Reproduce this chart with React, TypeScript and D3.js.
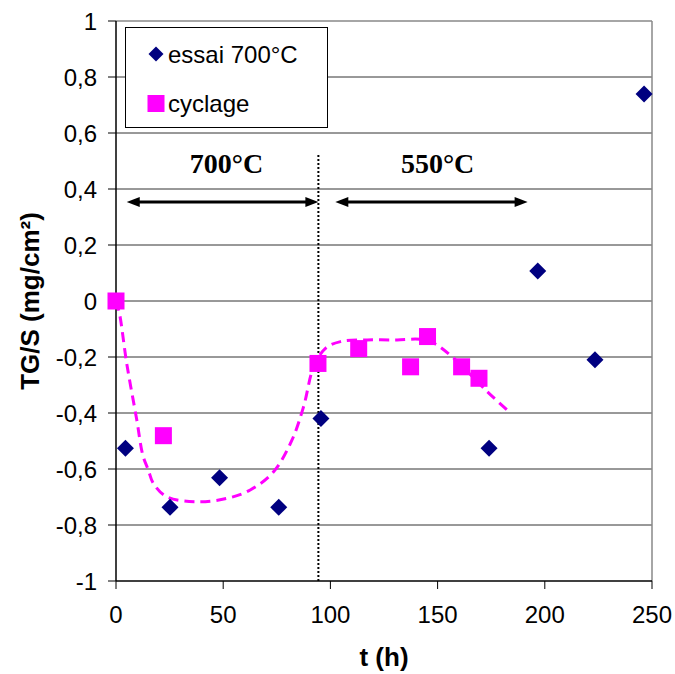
import React from 'react';
import * as d3 from 'd3';

const essaiT = [4.4, 25.2, 48.3, 75.9, 95.6, 174, 196.7, 223.4, 246.3];
const essaiV = [-0.526, -0.737, -0.631, -0.737, -0.42, -0.526, 0.107, -0.21, 0.739];
const cyclT = [0, 22.1, 94.2, 113.2, 137.4, 145.3, 161.2, 169.3];
const cyclV = [0, -0.481, -0.223, -0.17, -0.235, -0.127, -0.235, -0.276];
const trendT = [0, 1.6, 5, 9.7, 12.5, 15.1, 17.4, 23.7, 37.7, 51.7, 62.6, 73.5, 82.1, 87.5, 92.2, 97.7, 104.7, 117.1, 131.1, 142, 148.3, 157.6, 173.2, 183.8];
const trendV = [0, -0.044, -0.223, -0.425, -0.55, -0.604, -0.651, -0.699, -0.717, -0.705, -0.675, -0.61, -0.496, -0.377, -0.235, -0.169, -0.145, -0.139, -0.139, -0.137, -0.151, -0.205, -0.324, -0.399];
const xTicks = [0, 50, 100, 150, 200, 250];
const yTicks = [-1, -0.8, -0.6, -0.4, -0.2, 0, 0.2, 0.4, 0.6, 0.8, 1];
const periodLabels = ['700°C', '550°C'];
const periodLabelT = [51.5, 150];
const periodStart = [5, 102.3];
const periodEnd = [94.4, 192];
const separatorT = 94.4;
const legendLabels = ['essai 700°C', 'cyclage'];

const W = 675;
const H = 674;
const x = d3.scaleLinear().domain([0, 250]).range([116, 652]);
const y = d3.scaleLinear().domain([-1, 1]).range([581, 21]);

const fmt = (v: number) => {
  const r = Math.round(v * 10) / 10;
  return String(r).replace('.', ',');
};

const diamond = (cx: number, cy: number, r: number) =>
  `M${cx},${cy - r}L${cx + r},${cy}L${cx},${cy + r}L${cx - r},${cy}Z`;

export default function App() {
  const trendLine = d3
    .line<number>()
    .x((_, i) => x(trendT[i]))
    .y((d) => y(d))
    .curve(d3.curveCatmullRom.alpha(0.5));
  const arrowY = y(0.354);
  const sans = 'Arial, "Liberation Sans", sans-serif';
  const serif = '"Times New Roman", "Liberation Serif", serif';
  return (
    <svg width={W} height={H} style={{ position: 'absolute', left: 0, top: 0, background: '#fff' }}>
      <rect x={0} y={0} width={W} height={H} fill="#fff" />
      {yTicks.filter((t) => t > -1 && t < 1).map((t) => (
        <line key={'g' + t} x1={x(0)} x2={x(250)} y1={y(t)} y2={y(t)} stroke="#333" strokeWidth={1} />
      ))}
      <line x1={x(0)} x2={x(250)} y1={y(1)} y2={y(1)} stroke="#888" strokeWidth={1.5} />
      <line x1={x(250)} x2={x(250)} y1={y(1)} y2={y(-1)} stroke="#888" strokeWidth={1.5} />
      <line x1={x(0)} x2={x(0)} y1={y(1)} y2={y(-1)} stroke="#000" strokeWidth={1.5} />
      <line x1={x(0)} x2={x(250)} y1={y(-1)} y2={y(-1)} stroke="#000" strokeWidth={1.5} />
      {yTicks.map((t) => (
        <g key={'yt' + t}>
          <line x1={x(0) - 8} x2={x(0)} y1={y(t)} y2={y(t)} stroke="#000" strokeWidth={1} />
          <text x={97} y={y(t)} dy="0.36em" textAnchor="end" fontFamily={sans} fontSize={24} fill="#000">
            {fmt(t)}
          </text>
        </g>
      ))}
      {xTicks.map((t) => (
        <g key={'xt' + t}>
          <line x1={x(t)} x2={x(t)} y1={y(-1)} y2={y(-1) + 8} stroke="#000" strokeWidth={1} />
          <text x={x(t)} y={614} dy="0.36em" textAnchor="middle" fontFamily={sans} fontSize={24} fill="#000">
            {t}
          </text>
        </g>
      ))}
      <text x={384} y={657} dy="0.36em" textAnchor="middle" fontFamily={sans} fontSize={26} fontWeight="bold">
        t (h)
      </text>
      <text
        transform={`translate(30,${y(0)}) rotate(-90)`}
        dy="0.36em"
        textAnchor="middle"
        fontFamily={sans}
        fontSize={26}
        fontWeight="bold"
      >
        TG/S (mg/cm²)
      </text>
      <line x1={x(separatorT)} x2={x(separatorT)} y1={155} y2={y(-1)} stroke="#000" strokeWidth={2} strokeDasharray="2,2" />
      {periodLabels.map((lab, i) => {
        const a = x(periodStart[i]);
        const b = x(periodEnd[i]);
        return (
          <g key={'p' + i}>
            <line x1={a + 8} x2={b - 8} y1={arrowY} y2={arrowY} stroke="#000" strokeWidth={3} />
            <path d={`M${a},${arrowY}L${a + 13},${arrowY - 5}L${a + 13},${arrowY + 5}Z`} fill="#000" />
            <path d={`M${b},${arrowY}L${b - 13},${arrowY - 5}L${b - 13},${arrowY + 5}Z`} fill="#000" />
            <text x={x(periodLabelT[i])} y={163} dy="0.35em" textAnchor="middle" fontFamily={serif} fontSize={28} fontWeight="bold">
              {lab}
            </text>
          </g>
        );
      })}
      <path d={trendLine(trendV) || ''} fill="none" stroke="#FF00FF" strokeWidth={3} strokeDasharray="10,6" />
      {cyclV.map((v, i) => (
        <rect key={'c' + i} x={x(cyclT[i]) - 8.5} y={y(v) - 8.5} width={17} height={17} fill="#FF00FF" />
      ))}
      {essaiV.map((v, i) => (
        <path key={'e' + i} d={diamond(x(essaiT[i]), y(v), 8.5)} fill="#000080" />
      ))}
      <rect x={125.5} y={27.5} width={202} height={100} fill="#fff" stroke="#000" strokeWidth={1} />
      <path d={diamond(156, 54, 7.5)} fill="#000080" />
      <text x={168} y={54} dy="0.36em" fontFamily={sans} fontSize={24}>
        {legendLabels[0]}
      </text>
      <rect x={147.5} y={95} width={17} height={17} fill="#FF00FF" />
      <text x={168} y={103} dy="0.36em" fontFamily={sans} fontSize={24}>
        {legendLabels[1]}
      </text>
    </svg>
  );
}
